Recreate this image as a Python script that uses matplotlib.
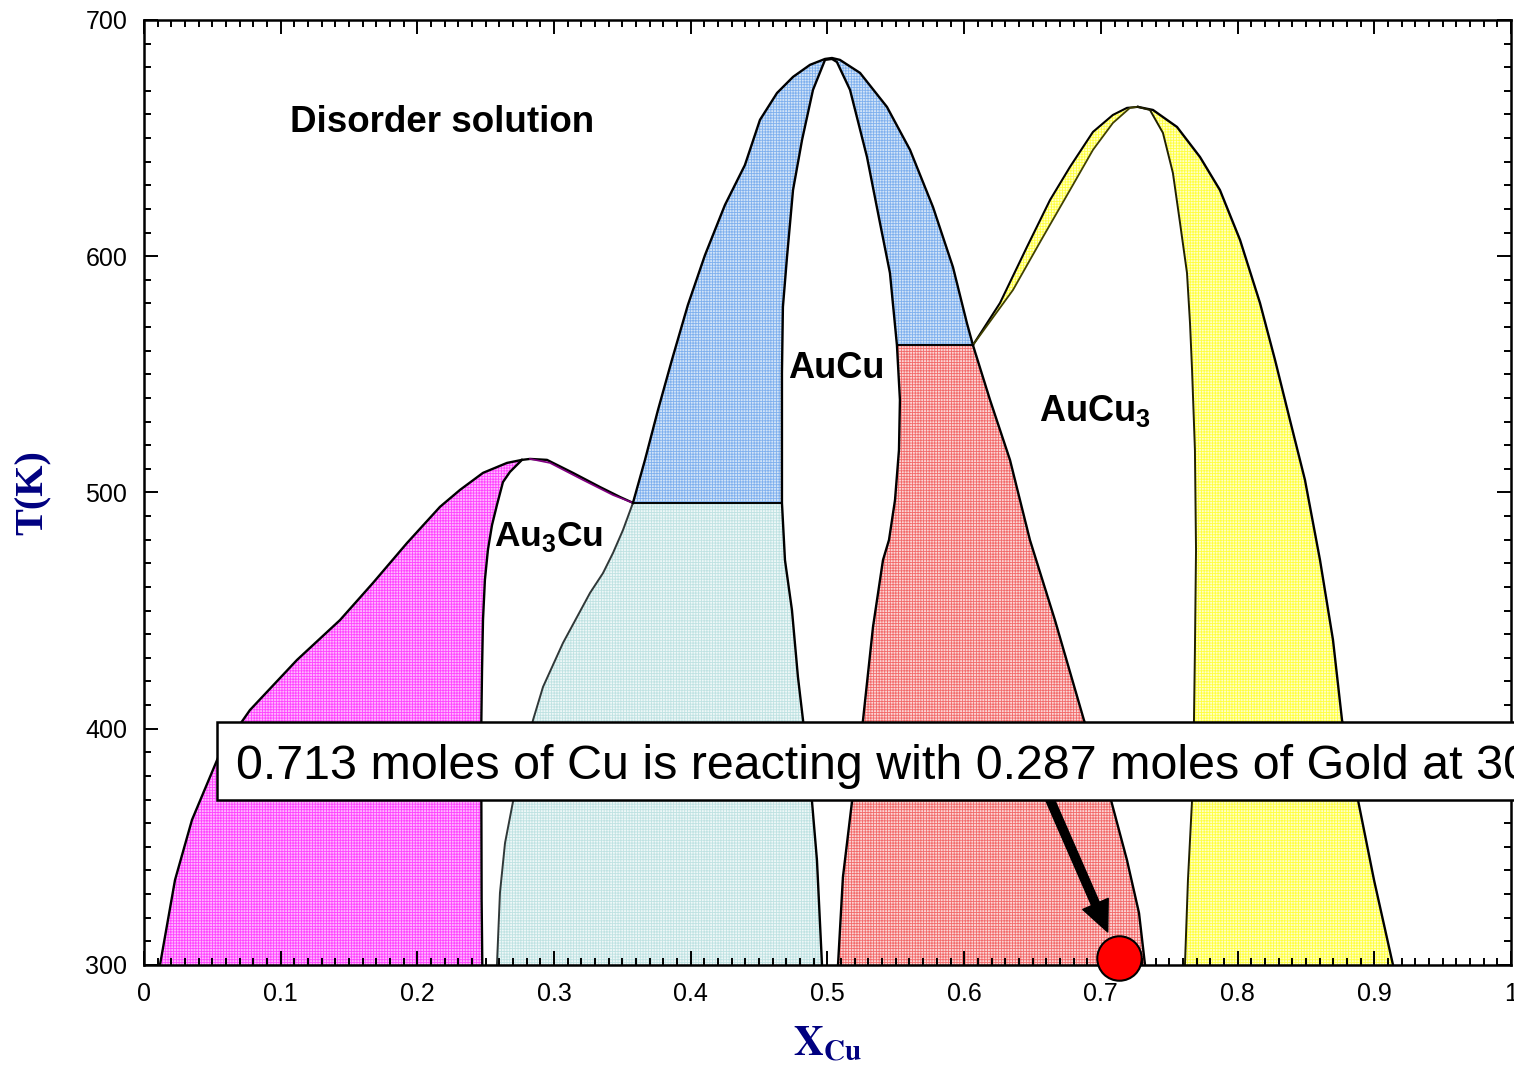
import matplotlib
matplotlib.use("Agg")
import matplotlib.pyplot as plt
from matplotlib.patches import Polygon, Rectangle
from matplotlib.ticker import MultipleLocator

plt.rcParams["font.family"] = ["Liberation Sans", "DejaVu Sans"]
plt.rcParams["mathtext.fontset"] = "custom"
plt.rcParams["mathtext.bf"] = "Liberation Sans:bold"
plt.rcParams["hatch.linewidth"] = 0.6

# --- phase boundaries (x = X_Cu, T in K) ---
# outer dome of Au3Cu (disorder / two-phase boundary)
au3cu_outer_x = [0.0117, 0.0227, 0.0351, 0.0556, 0.0775, 0.1119, 0.1434, 0.1675, 0.1924,
                 0.2165, 0.2312, 0.2480, 0.2655, 0.2765, 0.2824, 0.2948, 0.3138, 0.3336,
                 0.3482, 0.3577]
au3cu_outer_t = [300, 336, 361.4, 389.7, 407.9, 429.1, 446.0, 461.7, 478.6,
                 493.9, 501.1, 508.3, 512.5, 513.8, 514.2, 513.8, 508.3, 502.3,
                 498.1, 495.6]
# left boundary of ordered Au3Cu
au3cu_left_x = [0.2765, 0.2677, 0.2626, 0.2582, 0.2546, 0.2516, 0.2494, 0.2480, 0.2473,
                0.2468, 0.2468, 0.2470, 0.2475]
au3cu_left_t = [513.8, 508.7, 504.4, 494.7, 486.2, 475.7, 463.0, 446.0, 424.9,
                403.7, 369.8, 327.5, 300]
# inner line right of the Au3Cu maximum
au3cu_inner_x = [0.2824, 0.2970, 0.3211, 0.3431, 0.3577]
au3cu_inner_t = [514.2, 512.5, 505.3, 498.9, 495.6]
# right boundary of ordered Au3Cu
au3cu_right_x = [0.3577, 0.3504, 0.3431, 0.3358, 0.3263, 0.3065, 0.2919, 0.2846, 0.2699,
                 0.2641, 0.2604, 0.2582]
au3cu_right_t = [495.6, 484.1, 474.4, 465.9, 457.5, 436.3, 417.7, 403.7, 369.0,
                 351.6, 330.5, 300]
# left boundary of ordered AuCu
aucu_left_x = [0.4960, 0.4923, 0.4887, 0.4821, 0.4784, 0.4740, 0.4689, 0.4667, 0.4667,
               0.4667, 0.4674, 0.4704, 0.4748, 0.4814, 0.4894, 0.4982, 0.5033]
aucu_left_t = [300, 344.4, 369.0, 403.7, 421.9, 450.3, 471.4, 495.6, 522.2,
               550.6, 578.5, 599.7, 628.0, 649.2, 670.4, 683.1, 683.5]
# outer dome of AuCu
aucu_outer_x = [0.3577, 0.3665, 0.3760, 0.3862, 0.3979, 0.4104, 0.4250, 0.4396, 0.4506,
                0.4631, 0.4748, 0.4872, 0.4982, 0.5033, 0.5091, 0.5238, 0.5435, 0.5604,
                0.5772, 0.5918, 0.6020, 0.6064]
aucu_outer_t = [495.6, 513.8, 534.9, 556.1, 579.4, 600.5, 621.7, 638.6, 657.7,
                669.1, 675.9, 681.0, 683.5, 683.9, 683.1, 677.6, 663.2, 645.0,
                620.8, 595.4, 571.7, 562.4]
# right boundary of ordered AuCu
aucu_right_x = [0.5033, 0.5069, 0.5165, 0.5289, 0.5384, 0.5457, 0.5508, 0.5530, 0.5523,
                0.5494, 0.5450, 0.5406, 0.5333, 0.5260, 0.5179, 0.5113, 0.5077]
aucu_right_t = [683.5, 682.2, 670.4, 642.0, 614.1, 592.9, 562.4, 539.2, 518.0,
                496.8, 479.9, 471.4, 443.1, 403.7, 369.0, 337.2, 300]
# left boundary of ordered AuCu3
aucu3_left_x = [0.6064, 0.6189, 0.6335, 0.6481, 0.6664, 0.6876, 0.7074, 0.7191, 0.7279, 0.7323]
aucu3_left_t = [562.4, 539.2, 513.8, 479.9, 446.0, 403.7, 369.8, 344.4, 322.0, 300]
# AuCu3 dome, left side (outer and inner)
aucu3_outer_l_x = [0.6064, 0.6262, 0.6459, 0.6628, 0.6774, 0.6942, 0.7088, 0.7191, 0.7271]
aucu3_outer_l_t = [562.4, 580.2, 603.9, 623.8, 637.8, 652.6, 659.8, 662.8, 663.2]
aucu3_inner_l_x = [0.6064, 0.6357, 0.6576, 0.6774, 0.6942, 0.7088, 0.7213, 0.7271]
aucu3_inner_l_t = [562.4, 585.7, 608.1, 628.0, 645.0, 656.4, 662.8, 663.2]
# AuCu3 dome, right side (outer and inner)
aucu3_outer_r_x = [0.7271, 0.7381, 0.7557, 0.7725, 0.7871, 0.8018, 0.8164, 0.8274, 0.8383,
                   0.8493, 0.8603, 0.8698, 0.8764, 0.8881, 0.8998, 0.9137]
aucu3_outer_r_t = [663.2, 661.9, 654.7, 642.0, 628.0, 606.9, 580.2, 556.1, 530.7,
                   505.3, 471.4, 437.6, 403.7, 369.8, 336.0, 300]
aucu3_inner_r_x = [0.7271, 0.7359, 0.7454, 0.7527, 0.7579, 0.7630, 0.7652, 0.7667, 0.7688,
                   0.7696, 0.7688, 0.7681, 0.7667, 0.7637, 0.7615]
aucu3_inner_r_t = [663.2, 661.9, 652.2, 635.2, 614.1, 592.9, 571.7, 551.9, 518.0,
                   475.7, 433.3, 403.7, 369.8, 336.0, 300]

# invariant lines
eutectoid_low_x = [0.3577, 0.4667]
eutectoid_low_t = [495.6, 495.6]
eutectoid_high_x = [0.5508, 0.6064]
eutectoid_high_t = [562.4, 562.4]

# composition of interest
point_x = 0.713
point_t = 303
arrow_from = (0.659, 375)
arrow_to = (0.705, 314)

xticks = [0, 0.1, 0.2, 0.3, 0.4, 0.5, 0.6, 0.7, 0.8, 0.9, 1]
xtick_labels = ["0", "0.1", "0.2", "0.3", "0.4", "0.5", "0.6", "0.7", "0.8", "0.9", "1"]
yticks = [300, 400, 500, 600, 700]
ytick_labels = ["300", "400", "500", "600", "700"]

fill_styles = {
    "magenta": ("#ffb8ff", "#ff44ff"),
    "cyan": ("#eef8f8", "#bfe2e2"),
    "blue": ("#d2e4f8", "#7fb0ee"),
    "red": ("#fcd6d6", "#f26a6a"),
    "yellow": ("#ffffc8", "#ffff40"),
}


def pts(xs, ts):
    return list(zip(xs, ts))


def add_region(ax, verts, style):
    face, hatch_col = fill_styles[style]
    ax.add_patch(Polygon(verts, closed=True, facecolor=face, edgecolor=hatch_col,
                         linewidth=0, hatch="++++++", zorder=1))


fig = plt.figure(figsize=(15.14, 10.67), dpi=100)
ax = fig.add_axes([0.0951, 0.0956, 0.9029, 0.8857])

# magenta: Au-rich disorder + Au3Cu
mag = pts(au3cu_outer_x[:14], au3cu_outer_t[:14]) + pts(au3cu_left_x, au3cu_left_t)
add_region(ax, mag, "magenta")
mag2 = pts(au3cu_outer_x[14:], au3cu_outer_t[14:]) + pts(au3cu_inner_x[::-1], au3cu_inner_t[::-1])
add_region(ax, mag2, "magenta")
# cyan: Au3Cu + AuCu
cyan = pts(au3cu_right_x, au3cu_right_t) + pts(aucu_left_x[:8], aucu_left_t[:8])
add_region(ax, cyan, "cyan")
# blue: disorder + AuCu
blue = (pts(aucu_outer_x, aucu_outer_t) + pts(aucu_right_x[6::-1], aucu_right_t[6::-1])
        + pts(aucu_left_x[:6:-1], aucu_left_t[:6:-1]))
add_region(ax, blue, "blue")
# red: AuCu + AuCu3
red = pts(aucu3_left_x, aucu3_left_t) + pts(aucu_right_x[:5:-1], aucu_right_t[:5:-1])
add_region(ax, red, "red")
# yellow: disorder + AuCu3
yel1 = pts(aucu3_outer_l_x, aucu3_outer_l_t) + pts(aucu3_inner_l_x[::-1], aucu3_inner_l_t[::-1])
add_region(ax, yel1, "yellow")
yel2 = (pts(aucu3_outer_r_x, aucu3_outer_r_t)
        + pts(aucu3_inner_r_x[::-1], aucu3_inner_r_t[::-1]))
add_region(ax, yel2, "yellow")

lw = 1.7
ax.plot(au3cu_outer_x, au3cu_outer_t, color="black", lw=lw, zorder=3)
ax.plot(au3cu_left_x, au3cu_left_t, color="black", lw=lw, zorder=3)
ax.plot(au3cu_inner_x, au3cu_inner_t, color="#800080", lw=1.2, zorder=3)
ax.plot(au3cu_right_x, au3cu_right_t, color="#303838", lw=1.4, zorder=3)
ax.plot(aucu_left_x, aucu_left_t, color="black", lw=lw, zorder=3)
ax.plot(aucu_outer_x, aucu_outer_t, color="black", lw=lw, zorder=3)
ax.plot(aucu_right_x, aucu_right_t, color="black", lw=lw, zorder=3)
ax.plot(aucu3_left_x, aucu3_left_t, color="black", lw=lw, zorder=3)
ax.plot(aucu3_outer_l_x, aucu3_outer_l_t, color="black", lw=1.5, zorder=3)
ax.plot(aucu3_inner_l_x, aucu3_inner_l_t, color="#404000", lw=1.3, zorder=3)
ax.plot(aucu3_outer_r_x, aucu3_outer_r_t, color="black", lw=lw, zorder=3)
ax.plot(aucu3_inner_r_x, aucu3_inner_r_t, color="#202000", lw=1.4, zorder=3)
ax.plot(eutectoid_low_x, eutectoid_low_t, color="black", lw=1.4, zorder=3)
ax.plot(eutectoid_high_x, eutectoid_high_t, color="black", lw=1.4, zorder=3)

# region labels
ax.text(0.1068, 656.5, "Disorder solution", fontsize=26.5, fontweight="bold", va="center")
ax.text(0.4715, 552.5, "AuCu", fontsize=26, fontweight="bold", va="center")
ax.text(0.6545, 534.5, r"AuCu$_\mathbf{3}$", fontsize=26, fontweight="bold", va="center",
        math_fontfamily="custom")
ax.text(0.2560, 481.2, r"Au$_\mathbf{3}$Cu", fontsize=25.5, fontweight="bold", va="center",
        math_fontfamily="custom")

# arrow and point
ax.annotate("", xy=arrow_to, xytext=arrow_from,
            arrowprops=dict(arrowstyle="simple,head_length=1.1,head_width=1.0,tail_width=0.3",
                            mutation_scale=20, fc="black", ec="black", shrinkA=0, shrinkB=0),
            zorder=4)
ax.plot([point_x], [point_t], "o", ms=32, mfc="red", mec="black", mew=1.5,
        clip_on=False, zorder=6)

ax.set_xlim(0, 1)
ax.set_ylim(300, 700)
ax.set_xticks(xticks)
ax.set_xticklabels(xtick_labels)
ax.set_yticks(yticks)
ax.set_yticklabels(ytick_labels)
ax.xaxis.set_minor_locator(MultipleLocator(0.01))
ax.yaxis.set_minor_locator(MultipleLocator(10))
ax.tick_params(which="both", direction="in", top=True, right=True, width=1.4)
ax.tick_params(which="major", length=10, labelsize=18)
ax.tick_params(which="minor", length=5)
ax.tick_params(axis="x", pad=12)
ax.tick_params(axis="y", pad=12)
for sp in ax.spines.values():
    sp.set_linewidth(1.8)
    sp.set_zorder(5)

ax.set_xlabel(r"$\mathbf{X}_{\mathbf{Cu}}$", fontsize=30, color="#000080",
              math_fontfamily="stix", labelpad=14)
ax.set_ylabel("T(K)", fontsize=29, fontweight="bold", color="#000080",
              family="Liberation Serif", labelpad=24)

# text box overlaid on the figure
fig.add_artist(Rectangle((217 / 1514, 1 - 800 / 1067), 1.0, 78 / 1067,
                         transform=fig.transFigure, facecolor="white",
                         edgecolor="black", linewidth=1.8, zorder=10))
fig.text(236 / 1514, 1 - 779 / 1067,
         "0.713 moles of Cu is reacting with 0.287 moles of Gold at 300 K",
         fontsize=34.8, va="baseline", ha="left", zorder=11)

fig.savefig("out.png", dpi=100)
